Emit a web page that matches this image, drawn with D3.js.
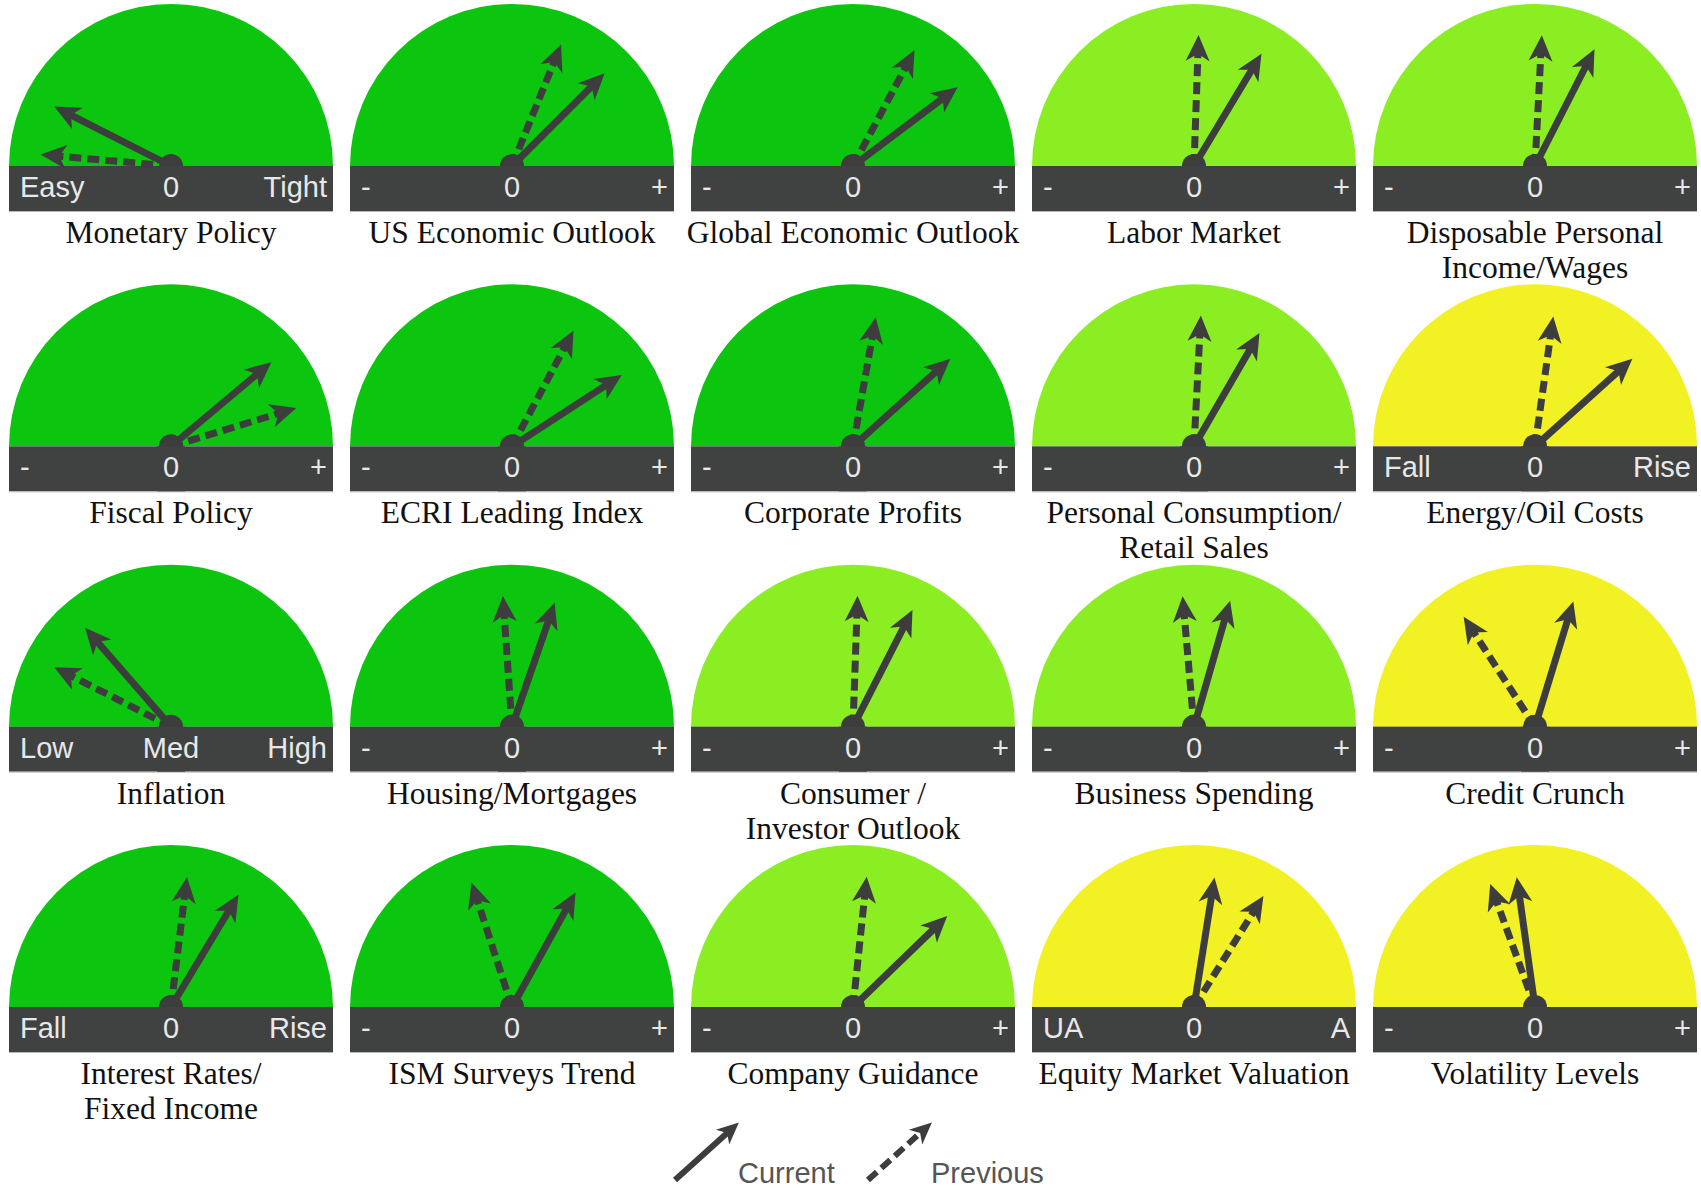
<!DOCTYPE html>
<html>
<head>
<meta charset="utf-8">
<script src="https://cdn.jsdelivr.net/npm/d3@7"></script>
<style>
  html, body { margin: 0; padding: 0; background: #ffffff; }
  svg { display: block; }
</style>
</head>
<body>
<div id="chart"></div>
<script>
// ---------------- DATA ----------------
const gaugeTitles = [
  ["Monetary Policy"], ["US Economic Outlook"], ["Global Economic Outlook"], ["Labor Market"], ["Disposable Personal", "Income/Wages"],
  ["Fiscal Policy"], ["ECRI Leading Index"], ["Corporate Profits"], ["Personal Consumption/", "Retail Sales"], ["Energy/Oil Costs"],
  ["Inflation"], ["Housing/Mortgages"], ["Consumer /", "Investor Outlook"], ["Business Spending"], ["Credit Crunch"],
  ["Interest Rates/", "Fixed Income"], ["ISM Surveys Trend"], ["Company Guidance"], ["Equity Market Valuation"], ["Volatility Levels"]
];
// gauge background zone category
const zones = [
  "strong", "strong", "strong", "moderate", "moderate",
  "strong", "strong", "strong", "moderate", "caution",
  "strong", "strong", "moderate", "moderate", "caution",
  "strong", "strong", "moderate", "caution", "caution"
];
// needle readings, -90 (far left) .. 0 (neutral) .. +90 (far right)
const currentReading = [
  -63, 45, 53, 31, 27,
  50, 57, 48, 30, 48,
  -41, 19, 27, 16, 17,
  31, 29, 46, 9, -8
];
const previousReading = [
  -85, 22, 28, 2, 3,
  73, 28, 10, 3, 8,
  -63, -4, 2, -5, -33,
  7, -18, 6, 32, -20
];
const leftLabels = [
  "Easy", "-", "-", "-", "-",
  "-", "-", "-", "-", "Fall",
  "Low", "-", "-", "-", "-",
  "Fall", "-", "-", "UA", "-"
];
const midLabels = [
  "0", "0", "0", "0", "0",
  "0", "0", "0", "0", "0",
  "Med", "0", "0", "0", "0",
  "0", "0", "0", "0", "0"
];
const rightLabels = [
  "Tight", "+", "+", "+", "+",
  "+", "+", "+", "+", "Rise",
  "High", "+", "+", "+", "+",
  "Rise", "+", "+", "A", "+"
];
const legendItems = ["Current", "Previous"];

// ---------------- STYLE / LAYOUT ----------------
const W = 1701, H = 1189;
const NCOL = 5, NROW = 4;
const R = 162;          // dial radius
const BAR_H = 45;
const NEEDLE_LEN = 131;
const INK = "#3d3d3d";

const zoneColor = d3.scaleOrdinal()
  .domain(["strong", "moderate", "caution"])
  .range(["#0cc50f", "#8aee22", "#f1f124"]);

const xCol = d3.scalePoint().domain(d3.range(NCOL)).range([171, 1535]);
const yRow = d3.scalePoint().domain(d3.range(NROW)).range([166, 1007]);
const angle = d3.scaleLinear().domain([-90, 90]).range([-90, 90]); // reading -> rotation degrees

const svg = d3.select("#chart").append("svg")
  .attr("width", W).attr("height", H)
  .attr("viewBox", `0 0 ${W} ${H}`);

svg.append("rect").attr("width", W).attr("height", H).attr("fill", "#fff");

const dialArc = d3.arc()
  .innerRadius(0).outerRadius(R)
  .startAngle(-Math.PI / 2).endAngle(Math.PI / 2);

// draws an arrow pointing "up" (towards -y) with given length, inside group g
function drawArrow(g, len, dashed, sw, headLen, headHalf) {
  g.append("line")
    .attr("x1", 0).attr("y1", 0)
    .attr("x2", 0).attr("y2", -(len - headLen * 0.7))
    .attr("stroke", INK)
    .attr("stroke-width", sw)
    .attr("stroke-dasharray", dashed ? "12,6" : null);
  g.append("path")
    .attr("d", `M0,${-len} L${-headHalf},${-len + headLen} L0,${-len + headLen * 0.72} L${headHalf},${-len + headLen} Z`)
    .attr("fill", INK);
}

const gauges = svg.selectAll("g.gauge")
  .data(d3.range(gaugeTitles.length))
  .join("g")
  .attr("class", "gauge")
  .attr("transform", i => `translate(${xCol(i % NCOL)},${yRow(Math.floor(i / NCOL))})`);

gauges.each(function (i) {
  const g = d3.select(this);
  // dial
  g.append("path").attr("d", dialArc()).attr("fill", zoneColor(zones[i]));
  // bar
  g.append("rect")
    .attr("x", -R).attr("y", 0)
    .attr("width", 2 * R).attr("height", BAR_H)
    .attr("fill", "#404141");
  g.append("line")
    .attr("x1", -R).attr("x2", R)
    .attr("y1", BAR_H + 0.5).attr("y2", BAR_H + 0.5)
    .attr("stroke", "#b8b8b8").attr("stroke-width", 1);
  // needles
  const prev = g.append("g").attr("transform", `rotate(${angle(previousReading[i])})`);
  drawArrow(prev, NEEDLE_LEN, true, 7, 26, 12);
  const cur = g.append("g").attr("transform", `rotate(${angle(currentReading[i])})`);
  drawArrow(cur, NEEDLE_LEN, false, 7, 26, 12);
  // pivot
  g.append("circle").attr("r", 12).attr("fill", INK);
  g.append("rect")
    .attr("x", -14).attr("y", 0).attr("width", 28).attr("height", BAR_H)
    .attr("fill", "#404141");
  // bar labels
  const addLbl = (x, anchor, txt) => {
    g.append("text").attr("x", x).attr("y", 31).attr("text-anchor", anchor)
      .attr("font-family", "'Liberation Sans', Arial, sans-serif")
      .attr("font-size", "29px")
      .attr("fill", "#e8e8e8")
      .text(txt);
  };
  addLbl(-R + 11, "start", leftLabels[i]);
  addLbl(0, "middle", midLabels[i]);
  addLbl(R - 6, "end", rightLabels[i]);
  // title
  const title = g.append("text")
    .attr("text-anchor", "middle")
    .attr("font-family", "'Liberation Serif', 'Times New Roman', serif")
    .attr("font-size", "31.5px")
    .attr("fill", "#111");
  gaugeTitles[i].forEach((line, k) => {
    title.append("tspan").attr("x", 0).attr("y", 77 + k * 35).text(line);
  });
});

// ---------------- LEGEND ----------------
const legendX = d3.scalePoint().domain(legendItems).range([675, 868]);
const legend = svg.selectAll("g.legend")
  .data(legendItems)
  .join("g")
  .attr("class", "legend")
  .attr("transform", d => `translate(${legendX(d)},1180)`);

legend.each(function (d, k) {
  const g = d3.select(this);
  const a = g.append("g").attr("transform", "rotate(48)");
  drawArrow(a, 86, k === 1, 6, 22, 10);
  g.append("text")
    .attr("x", 63).attr("y", 3)
    .attr("font-family", "'Liberation Sans', Arial, sans-serif")
    .attr("font-size", "29px")
    .attr("fill", "#555")
    .text(d);
});
</script>
</body>
</html>
